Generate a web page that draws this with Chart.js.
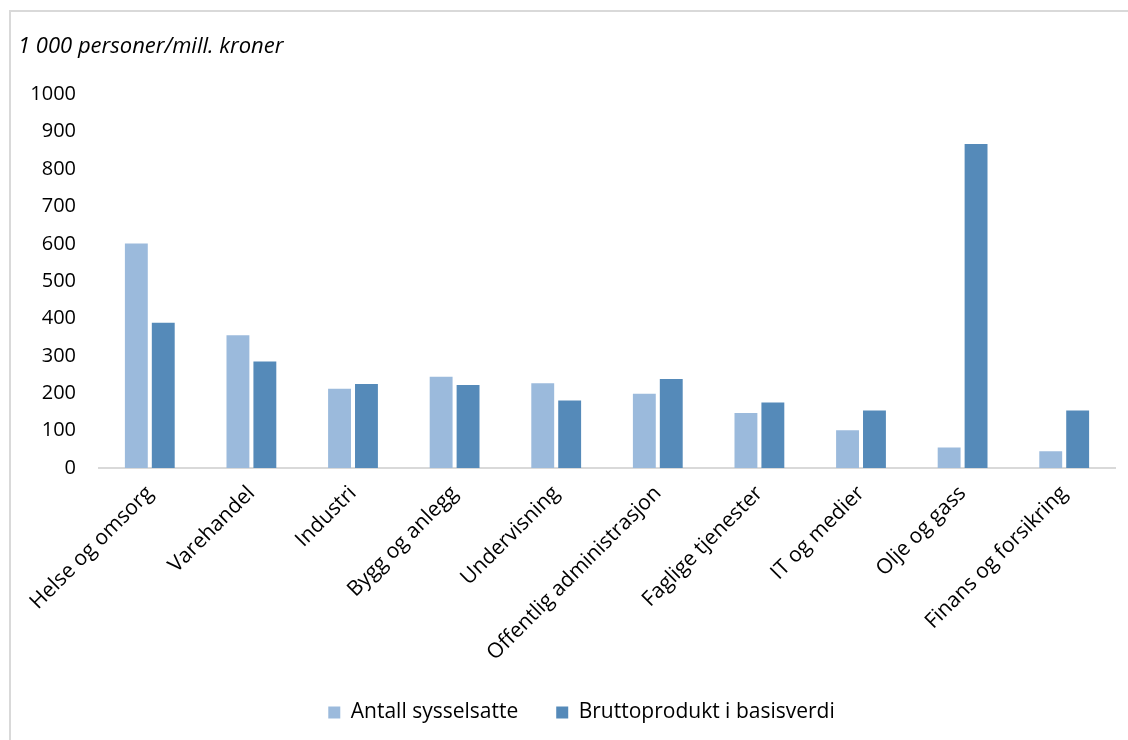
<!DOCTYPE html>
<html lang="no">
<head>
<meta charset="UTF-8">
<title>Sysselsatte og bruttoprodukt etter næring</title>
<script src="https://cdn.jsdelivr.net/npm/chart.js"></script>
<style>
    body {
        margin: 0;
        background: #ffffff;
        overflow: hidden;
    }
    .frame {
        position: absolute;
        left: 9px;
        top: 10px;
        width: 1200px;
        height: 800px;
        border-top: 2px solid #d9d9d9;
        border-left: 2px solid #d9d9d9;
    }
    #chart {
        position: absolute;
        left: 0;
        top: 0;
    }
</style>
</head>
<body>
<div class="frame"></div>
<canvas id="chart" width="1128" height="740"></canvas>

<script>
// Næringer langs x-aksen
const naeringer = [
    'Helse og omsorg', 'Varehandel', 'Industri', 'Bygg og anlegg', 'Undervisning',
    'Offentlig administrasjon', 'Faglige tjenester', 'IT og medier', 'Olje og gass',
    'Finans og forsikring'
];

// 1 000 personer
const antallSysselsatte = [601, 355, 212, 244, 227, 199, 147, 101, 55, 45];

// mill. kroner
const bruttoprodukt = [389, 285, 225, 222, 181, 238, 175, 154, 867, 154];

const yTicks = [0, 100, 200, 300, 400, 500, 600, 700, 800, 900, 1000];

Chart.defaults.font.family = '"Open Sans", sans-serif';
Chart.defaults.color = '#000000';

// flytter forklaringen litt mot høyre, så den står midt under rammen
const legendShift = {
    id: 'legendShift',
    afterLayout(chart) {
        chart.legend.left += 15;
        chart.legend.right += 15;
    }
};

new Chart(document.getElementById('chart').getContext('2d'), {
    type: 'bar',
    data: {
        labels: naeringer,
        datasets: [
            {
                label: 'Antall sysselsatte',
                data: antallSysselsatte,
                backgroundColor: '#9bbadc'
            },
            {
                label: 'Bruttoprodukt i basisverdi',
                data: bruttoprodukt,
                backgroundColor: '#558ab9'
            }
        ]
    },
    plugins: [legendShift],
    options: {
        responsive: false,
        animation: false,
        layout: {
            padding: { left: 18, right: 13, top: 0, bottom: 7 }
        },
        datasets: {
            bar: {
                categoryPercentage: 0.53,
                barPercentage: 0.85
            }
        },
        plugins: {
            title: {
                display: true,
                text: '1 000 personer/mill. kroner',
                align: 'start',
                font: { size: 22, style: 'italic', weight: 'normal' },
                color: '#000000',
                padding: { top: 34, bottom: 34 }
            },
            legend: {
                position: 'bottom',
                labels: {
                    boxWidth: 12,
                    boxHeight: 12,
                    padding: 38,
                    font: { size: 21 },
                    color: '#000000'
                }
            },
            tooltip: { enabled: false }
        },
        scales: {
            x: {
                grid: { display: false },
                border: { display: true, color: '#d9d9d9', width: 2 },
                ticks: {
                    minRotation: 45,
                    maxRotation: 45,
                    padding: 5,
                    labelOffset: 0,
                    font: { size: 21 },
                    color: '#000000'
                },
                afterFit: scale => { scale.height = 196; }
            },
            y: {
                min: 0,
                max: 1000,
                afterBuildTicks: scale => {
                    scale.ticks = yTicks.map(v => ({ value: v }));
                },
                grid: { display: false },
                border: { display: false },
                ticks: {
                    padding: 15,
                    font: { size: 20 },
                    color: '#000000',
                    callback: value => String(value)
                },
                afterFit: scale => { scale.width = 81; }
            }
        }
    }
});
</script>
</body>
</html>
